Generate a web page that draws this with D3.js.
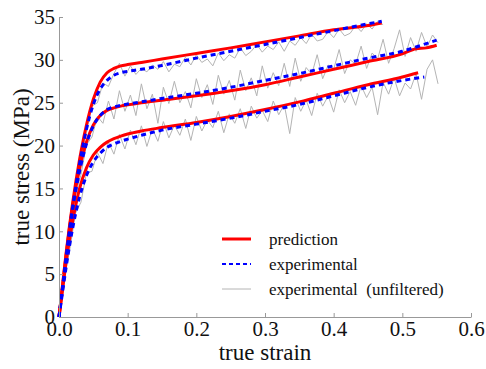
<!DOCTYPE html>
<html>
<head>
<meta charset="utf-8">
<script src="https://cdn.jsdelivr.net/npm/d3@7"></script>
<style>
  svg text { font-family: "Times New Roman", "Liberation Serif", serif !important; }
</style>
</head>
<body style="margin:0">
<div id="chart"></div>
<script>
// Smooth curves: strain / stress pairs
const topStrain = [0, 0.005, 0.01, 0.02, 0.03, 0.04, 0.05, 0.06, 0.07, 0.08, 0.09, 0.1, 0.12, 0.15, 0.2, 0.25, 0.3, 0.35, 0.4, 0.45, 0.47];
const topPred = [0, 3.6, 7.2, 13.4, 18.4, 22.4, 25.4, 27.4, 28.5, 29.0, 29.3, 29.45, 29.7, 30.1, 30.75, 31.4, 32.1, 32.8, 33.5, 34.0, 34.3];
const topExp = [0, 3.3, 6.7, 12.9, 17.9, 21.9, 24.8, 26.6, 27.6, 28.2, 28.5, 28.65, 28.9, 29.35, 30.2, 31.0, 31.8, 32.6, 33.4, 34.2, 34.5];

const midStrain = [0, 0.005, 0.01, 0.02, 0.03, 0.04, 0.05, 0.06, 0.07, 0.08, 0.09, 0.1, 0.12, 0.15, 0.2, 0.25, 0.3, 0.35, 0.4, 0.45, 0.5, 0.52, 0.535, 0.55];
const midPred = [0, 3.5, 7.0, 13.0, 17.3, 20.4, 22.4, 23.5, 24.1, 24.4, 24.6, 24.75, 25.0, 25.3, 25.8, 26.4, 27.1, 28.0, 28.9, 29.8, 30.7, 31.3, 31.4, 31.7];
const midExp = [0, 3.3, 6.6, 12.6, 17.0, 20.2, 22.3, 23.5, 24.2, 24.5, 24.7, 24.85, 25.1, 25.5, 26.1, 26.8, 27.6, 28.4, 29.3, 30.2, 31.0, 31.5, 31.9, 32.3];

const botStrain = [0, 0.005, 0.01, 0.02, 0.03, 0.04, 0.05, 0.06, 0.07, 0.08, 0.09, 0.1, 0.12, 0.15, 0.2, 0.25, 0.3, 0.35, 0.4, 0.45, 0.5, 0.523];
const botPred = [0, 3.1, 6.2, 11.2, 15.0, 17.4, 18.9, 19.8, 20.4, 20.8, 21.1, 21.35, 21.7, 22.1, 22.7, 23.4, 24.2, 25.1, 26.1, 27.1, 28.0, 28.5];
const botExpStrain = [0, 0.005, 0.01, 0.02, 0.03, 0.04, 0.05, 0.06, 0.07, 0.08, 0.09, 0.1, 0.12, 0.15, 0.2, 0.25, 0.3, 0.35, 0.4, 0.45, 0.5, 0.532];
const botExp = [0, 2.8, 5.6, 10.4, 14.0, 16.5, 18.1, 19.1, 19.8, 20.2, 20.5, 20.75, 21.2, 21.8, 22.5, 23.2, 24.0, 24.8, 25.8, 26.8, 27.6, 28.0];

// Unfiltered measurements (shared strain grid)
const rawStrain = [0, 0.008, 0.016, 0.024, 0.032, 0.04, 0.048, 0.056, 0.064, 0.072,
  0.08, 0.088, 0.096, 0.104, 0.112, 0.12, 0.128, 0.136, 0.144, 0.152,
  0.16, 0.168, 0.176, 0.184, 0.192, 0.2, 0.208, 0.216, 0.224, 0.232,
  0.24, 0.248, 0.256, 0.264, 0.272, 0.28, 0.288, 0.296, 0.304, 0.312,
  0.32, 0.328, 0.336, 0.344, 0.352, 0.36, 0.368, 0.376, 0.384, 0.392,
  0.4, 0.408, 0.416, 0.424, 0.432, 0.44, 0.448, 0.456, 0.464, 0.472,
  0.48, 0.488, 0.496, 0.504, 0.512, 0.52, 0.528, 0.536, 0.544, 0.552];
const topRaw = [0, 5.4, 10.3, 14.9, 18.6, 21.5, 24.6, 25.0, 27.3, 26.9, 28.4, 29.6, 28.1, 29.3, 28.3, 29.0, 28.6, 29.4, 28.9, 29.8,
  28.6, 29.5, 29.2, 30.3, 29.4, 30.6, 29.7, 30.1, 29.3, 30.8, 29.9, 30.6, 30.2, 31.4, 30.5, 31.0, 31.8, 30.9, 31.6, 31.2,
  32.1, 31.0, 32.2, 31.7, 32.6, 31.9, 33.0, 32.2, 32.4, 33.3, 32.6, 33.6, 32.8, 33.1, 34.0, 33.3, 34.2, 33.6, 34.5, 34.1];
const midRaw = [0, 5.0, 9.9, 14.2, 16.6, 20.1, 21.0, 23.4, 22.6, 25.2, 23.1, 26.4, 24.0, 25.9, 23.5, 27.2, 24.3, 26.0, 22.6, 26.8,
  24.9, 27.5, 25.0, 26.3, 24.4, 27.8, 25.6, 27.1, 24.8, 28.2, 26.0, 27.6, 25.3, 28.8, 26.4, 27.9, 25.8, 29.3, 26.7, 28.5,
  27.0, 29.6, 26.9, 30.2, 27.5, 29.1, 28.3, 30.6, 27.8, 29.4, 28.9, 31.2, 28.4, 30.0, 29.5, 31.6, 29.0, 30.8, 30.1, 32.4,
  29.6, 31.3, 33.5, 30.4, 32.6, 31.0, 33.2, 31.5, 32.9, 32.0];
const botRaw = [0, 4.6, 8.0, 12.1, 13.4, 16.8, 17.0, 19.2, 17.9, 20.4, 19.0, 21.3, 19.6, 21.8, 20.1, 22.3, 19.9, 22.0, 20.5, 22.8,
  20.9, 22.4, 21.2, 23.1, 20.6, 23.4, 21.7, 23.0, 22.1, 24.0, 21.5, 23.7, 22.6, 24.3, 22.0, 24.6, 23.2, 24.1, 22.8, 25.2,
  23.6, 24.8, 21.4, 25.6, 24.0, 25.3, 23.5, 26.1, 24.6, 25.8, 23.9, 26.5, 25.0, 26.3, 24.7, 27.0, 25.6, 26.8, 23.6, 27.4,
  26.0, 27.9, 25.8, 27.3, 26.6, 28.4, 25.4, 28.9, 30.0, 27.2];

const xTicks = [0, 0.1, 0.2, 0.3, 0.4, 0.5, 0.6];
const yTicks = [0, 5, 10, 15, 20, 25, 30, 35];
const legendLabels = ["prediction", "experimental", "experimental  (unfiltered)"];

const FONT = "Times New Roman";
const width = 486, height = 369;
const margin = { top: 17, right: 15, bottom: 52, left: 59 };

const svg = d3.select("#chart").append("svg")
    .attr("width", width)
    .attr("height", height)
    .attr("font-family", FONT);

const x = d3.scaleLinear().domain([0, 0.6]).range([margin.left, width - margin.right]);
const y = d3.scaleLinear().domain([0, 35]).range([height - margin.bottom, margin.top]);

const zip = (xs, ys) => ys.map((v, i) => [xs[i], v]);

const smooth = d3.line().x(d => x(d[0])).y(d => y(d[1])).curve(d3.curveMonotoneX);
const raw = d3.line().x(d => x(d[0])).y(d => y(d[1]));

// unfiltered first, underneath everything
[topRaw, midRaw, botRaw].forEach(s => {
    svg.append("path")
        .attr("d", raw(zip(rawStrain, s)))
        .attr("fill", "none")
        .attr("stroke", "#b4b4b4")
        .attr("stroke-width", 1);
});

// prediction
[[topStrain, topPred], [midStrain, midPred], [botStrain, botPred]].forEach(([xs, ys]) => {
    svg.append("path")
        .attr("d", smooth(zip(xs, ys)))
        .attr("fill", "none")
        .attr("stroke", "#ff0000")
        .attr("stroke-width", 3);
});

// experimental (filtered)
[[topStrain, topExp], [midStrain, midExp], [botExpStrain, botExp]].forEach(([xs, ys]) => {
    svg.append("path")
        .attr("d", smooth(zip(xs, ys)))
        .attr("fill", "none")
        .attr("stroke", "#0000ff")
        .attr("stroke-width", 3)
        .attr("stroke-dasharray", "5,4");
});

// axes - ticks point inward
const xAxis = svg.append("g")
    .attr("transform", `translate(0, ${y(0)})`)
    .call(d3.axisBottom(x).tickValues(xTicks).tickFormat(d3.format(".1f"))
        .tickSizeInner(-4).tickSizeOuter(0).tickPadding(4));
xAxis.attr("font-family", FONT).attr("font-size", 21);
xAxis.selectAll("text").attr("fill", "#111");

const yAxis = svg.append("g")
    .attr("transform", `translate(${x(0)}, 0)`)
    .call(d3.axisLeft(y).tickValues(yTicks).tickFormat(d3.format("d"))
        .tickSizeInner(-4).tickSizeOuter(0).tickPadding(4));
yAxis.attr("font-family", FONT).attr("font-size", 21);
yAxis.selectAll("text").attr("fill", "#111");

svg.selectAll(".domain, .tick line").attr("stroke", "#999");

svg.append("text")
    .attr("x", (x(0) + x(0.6)) / 2)
    .attr("y", 360)
    .attr("text-anchor", "middle")
    .attr("fill", "#111")
    .attr("font-size", 23)
    .text("true strain");

svg.append("text")
    .attr("transform", `translate(29, ${(y(0) + y(35)) / 2}) rotate(-90)`)
    .attr("text-anchor", "middle")
    .attr("fill", "#111")
    .attr("font-size", 23)
    .text("true stress (MPa)");

// legend
const legend = svg.append("g").attr("transform", "translate(222, 239)");
const legendStyle = [
    { color: "#ff0000", w: 3, dash: null },
    { color: "#0000ff", w: 2, dash: "4,3" },
    { color: "#b4b4b4", w: 1, dash: null }
];
legendLabels.forEach((label, i) => {
    const row = legend.append("g").attr("transform", `translate(0, ${i * 25})`);
    row.append("line")
        .attr("x1", 0).attr("x2", 29)
        .attr("stroke", legendStyle[i].color)
        .attr("stroke-width", legendStyle[i].w)
        .attr("stroke-dasharray", legendStyle[i].dash);
    row.append("text")
        .attr("x", 47)
        .attr("y", 6)
        .attr("fill", "#111")
        .attr("font-size", 17)
        .attr("xml:space", "preserve")
        .text(label);
});
</script>
</body>
</html>
